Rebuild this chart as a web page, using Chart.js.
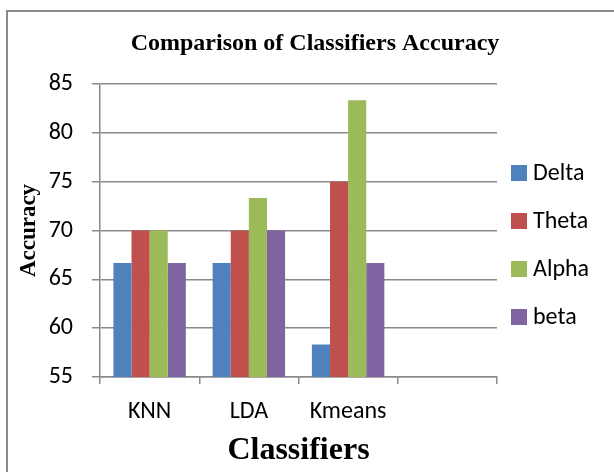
<!DOCTYPE html>
<html>
<head>
<meta charset="utf-8">
<script src="https://cdn.jsdelivr.net/npm/chart.js@4.4.1/dist/chart.umd.min.js"></script>
<style>
  html, body { margin: 0; padding: 0; background: #ffffff; }
  #wrap { width: 614px; height: 472px; position: relative; }
</style>
</head>
<body>
<div id="wrap"><canvas id="c" width="614" height="472"></canvas></div>
<script>
// Classifier names (the last slot is left empty on the axis)
const classifiers = ['KNN', 'LDA', 'Kmeans', ''];

// Accuracy (%) per EEG band
const delta = [66.67, 66.67, 58.33];
const theta = [70, 70, 75];
const alpha = [70, 73.33, 83.33];
const beta  = [66.67, 70, 66.67];

const bandNames = ['Delta', 'Theta', 'Alpha', 'beta'];
const bandColors = ['#4F81BD', '#C0504D', '#9BBB59', '#8064A2'];

const yTicks = { min: 55, max: 85, step: 5 };

const GRID = '#8a8a8a';
const LABEL_FONT = 'Carlito, Lato, "Open Sans", sans-serif';
const SERIF = '"Liberation Serif", "DejaVu Serif", serif';

// Outer frame around the whole figure
const framePlugin = {
  id: 'frame',
  afterLayout(chart) {
    // centre the title over the framed figure rather than the plot only
    const t = chart.titleBlock;
    if (t) { t.left = 16; t.right = 614; t.width = 598; }
  },
  beforeDraw(chart) {
    const ctx = chart.ctx;
    ctx.save();
    ctx.fillStyle = '#ffffff';
    ctx.fillRect(0, 0, chart.width, chart.height);
    ctx.strokeStyle = '#8a8a8a';
    ctx.lineWidth = 2;
    ctx.strokeRect(7, 11, chart.width + 20, chart.height + 20);
    ctx.restore();
  }
};

// Legend on the right, one square swatch per band
const sideLegend = {
  id: 'sideLegend',
  afterDraw(chart) {
    const ctx = chart.ctx;
    const x0 = chart.chartArea.right + 14;
    const yStart = 173;
    const gap = 48;
    ctx.save();
    ctx.font = '24px ' + LABEL_FONT;
    ctx.textBaseline = 'middle';
    ctx.textAlign = 'left';
    chart.data.datasets.forEach((ds, i) => {
      const cy = yStart + i * gap;
      ctx.fillStyle = ds.backgroundColor;
      ctx.fillRect(x0, cy - 8, 16, 16);
      ctx.fillStyle = '#000000';
      ctx.fillText(ds.label, x0 + 22, cy + 1);
    });
    ctx.restore();
  }
};

const series = [delta, theta, alpha, beta];

new Chart(document.getElementById('c'), {
  type: 'bar',
  data: {
    labels: classifiers,
    datasets: series.map((vals, i) => ({
      label: bandNames[i],
      data: vals,
      backgroundColor: bandColors[i],
      borderWidth: 0,
      categoryPercentage: 0.73,
      barPercentage: 1.0
    }))
  },
  options: {
    responsive: false,
    animation: false,
    devicePixelRatio: 1,
    layout: { padding: { left: 0, right: 117, top: 0, bottom: 0 } },
    plugins: {
      legend: { display: false },
      tooltip: { enabled: false },
      title: {
        display: true,
        text: 'Comparison of Classifiers Accuracy',
        color: '#000000',
        font: { family: SERIF, size: 24, weight: 'bold' },
        padding: { top: 29.6, bottom: 25.6 }
      }
    },
    scales: {
      x: {
        grid: {
          offset: true,
          drawOnChartArea: false,
          drawTicks: true,
          tickLength: 7,
          color: GRID,
          lineWidth: 1.5
        },
        border: { color: GRID, width: 1.5 },
        ticks: {
          color: '#000000',
          font: { family: LABEL_FONT, size: 24 },
          padding: 14,
          maxRotation: 0
        },
        title: {
          display: true,
          text: 'Classifiers',
          color: '#000000',
          font: { family: SERIF, size: 32, weight: 'bold' },
          padding: { top: 0, bottom: 2 }
        },
        afterFit(scale) { scale.height = 95; }
      },
      y: {
        min: yTicks.min,
        max: yTicks.max,
        grid: {
          color: GRID,
          lineWidth: 1.5,
          drawTicks: true,
          tickLength: 8
        },
        border: { color: GRID, width: 1.5 },
        ticks: {
          stepSize: yTicks.step,
          color: '#000000',
          font: { family: LABEL_FONT, size: 24 },
          padding: 19
        },
        title: {
          display: true,
          text: 'Accuracy',
          color: '#000000',
          font: { family: SERIF, size: 23, weight: 'bold' },
          padding: { top: 15, bottom: 0 }
        },
        afterFit(scale) { scale.width = 100; }
      }
    }
  },
  plugins: [framePlugin, sideLegend]
});
</script>
</body>
</html>
